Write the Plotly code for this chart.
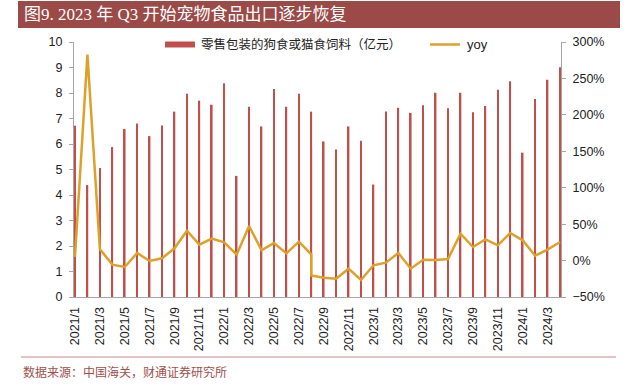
import plotly.graph_objects as go

# Monthly categories (2022/8 appears twice in the source data)
months = ["2021/1", "2021/2", "2021/3", "2021/4", "2021/5", "2021/6", "2021/7", "2021/8",
          "2021/9", "2021/10", "2021/11", "2021/12", "2022/1", "2022/2", "2022/3", "2022/4",
          "2022/5", "2022/6", "2022/7", "2022/8", "2022/8", "2022/9", "2022/10", "2022/11",
          "2022/12", "2023/1", "2023/2", "2023/3", "2023/4", "2023/5", "2023/6", "2023/7",
          "2023/8", "2023/9", "2023/10", "2023/11", "2023/12", "2024/1", "2024/2", "2024/3",
          "2024/4"]

# Export value of retail-packed dog/cat food (100 million CNY)
export_value = [6.72, 4.39, 5.06, 5.88, 6.59, 6.80, 6.31, 6.73, 7.27, 7.97,
                7.70, 7.54, 8.38, 4.75, 7.46, 6.69, 8.16, 7.46, 7.97, 7.27,
                5.86, 6.10, 5.78, 6.69, 6.13, 4.41, 7.27, 7.42, 7.22, 7.52,
                8.01, 7.40, 8.01, 7.25, 7.49, 8.13, 8.46, 5.66, 7.76, 8.52,
                9.01]

# Year-over-year growth (%)
yoy = [5.0, 282.6, 15.9, -5.6, -8.8, 10.4, -0.6, 3.1, 16.8, 41.0,
       21.8, 30.1, 25.0, 8.1, 47.4, 14.1, 24.1, 9.9, 25.9, 8.6,
       -20.3, -23.5, -24.8, -11.1, -26.7, -6.5, -2.9, 10.4, -11.1, 1.2,
       0.8, 2.2, 36.9, 18.6, 29.1, 20.9, 37.8, 27.8, 6.7, 15.0,
       25.5]

x_ticks = ["2021/1", "2021/3", "2021/5", "2021/7", "2021/9", "2021/11",
           "2022/1", "2022/3", "2022/5", "2022/7", "2022/9", "2022/11",
           "2023/1", "2023/3", "2023/5", "2023/7", "2023/9", "2023/11",
           "2024/1", "2024/3"]

bar_name = "零售包装的狗食或猫食饲料（亿元）"
line_name = "yoy"
title_text = "图9. 2023 年 Q3 开始宠物食品出口逐步恢复"
source_text = "数据来源：中国海关，财通证券研究所"

BAR_COLOR = "#C0504D"
LINE_COLOR = "#DFA02A"
AXIS_COLOR = "#A6A6A6"
TEXT_COLOR = "#222222"
SANS = "Liberation Sans, Arial, Noto Sans CJK SC"
SERIF = "Liberation Serif, Times New Roman, Noto Sans CJK SC"

fig = go.Figure()
fig.add_trace(go.Bar(
    x=months, y=export_value, name=bar_name, showlegend=False,
    marker=dict(color=BAR_COLOR, line=dict(width=0)), width=0.13,
))
fig.add_trace(go.Scatter(
    x=months, y=yoy, name=line_name, yaxis="y2", mode="lines", showlegend=False,
    line=dict(color=LINE_COLOR, width=2.5),
))

W, H = 636, 390
L, R, T, B = 74, 75, 42, 93
pw, ph = W - L - R, H - T - B


def px_x(p):  # pixel -> paper x
    return (p - L) / pw


def px_y(p):  # pixel -> paper y
    return (H - B - p) / ph


tickfont = dict(family=SANS, size=12.5, color=TEXT_COLOR)

fig.update_layout(
    width=W, height=H,
    margin=dict(l=L, r=R, t=T, b=B, pad=0),
    paper_bgcolor="white", plot_bgcolor="white",
    font=dict(family=SANS, size=12, color=TEXT_COLOR),
    barmode="overlay",
    xaxis=dict(
        type="category", range=[-0.08, 39.08],
        tickmode="array", tickvals=x_ticks, ticktext=x_ticks,
        tickangle=-90, ticks="", showgrid=False,
        showline=True, linecolor=AXIS_COLOR, linewidth=1,
        tickfont=tickfont, ticklabelstandoff=4,
    ),
    yaxis=dict(
        range=[0, 10], dtick=1, showgrid=False, zeroline=False,
        showline=True, linecolor=AXIS_COLOR, linewidth=1,
        ticks="outside", ticklen=4, tickcolor=AXIS_COLOR,
        tickfont=tickfont, ticklabelstandoff=4,
    ),
    yaxis2=dict(
        range=[-50, 300], dtick=50, overlaying="y", side="right",
        showgrid=False, zeroline=False, ticksuffix="%",
        showline=True, linecolor=AXIS_COLOR, linewidth=1,
        ticks="outside", ticklen=4, tickcolor=AXIS_COLOR,
        tickfont=tickfont, ticklabelstandoff=4,
    ),
    shapes=[
        # title banner
        dict(type="rect", xref="paper", yref="paper",
             x0=px_x(18), x1=px_x(620), y0=px_y(28), y1=px_y(1),
             fillcolor="#9B4A47", line=dict(width=0), layer="below"),
        # footer rule
        dict(type="line", xref="paper", yref="paper",
             x0=px_x(21), x1=px_x(616), y0=px_y(357), y1=px_y(357),
             line=dict(color="#C58A87", width=1)),
        # legend swatches
        dict(type="rect", xref="paper", yref="paper",
             x0=px_x(165), x1=px_x(195), y0=px_y(47.5), y1=px_y(41.5),
             fillcolor=BAR_COLOR, line=dict(width=0)),
        dict(type="line", xref="paper", yref="paper",
             x0=px_x(430), x1=px_x(460), y0=px_y(44.5), y1=px_y(44.5),
             line=dict(color=LINE_COLOR, width=2.5)),
    ],
    annotations=[
        dict(text=title_text, xref="paper", yref="paper",
             x=px_x(22), y=px_y(15), xanchor="left", yanchor="middle",
             showarrow=False, font=dict(family=SERIF, size=17, color="white")),
        dict(text=source_text, xref="paper", yref="paper",
             x=px_x(21), y=px_y(372), xanchor="left", yanchor="middle",
             showarrow=False, font=dict(family=SERIF, size=12, color="#A0504B")),
        dict(text=bar_name, xref="paper", yref="paper",
             x=px_x(199), y=px_y(45), xanchor="left", yanchor="middle",
             showarrow=False, font=dict(family=SANS, size=12.5, color=TEXT_COLOR)),
        dict(text=line_name, xref="paper", yref="paper",
             x=px_x(465), y=px_y(45), xanchor="left", yanchor="middle",
             showarrow=False, font=dict(family=SANS, size=13, color=TEXT_COLOR)),
    ],
)

# Remove the browser's default page margin so the figure sits at the window's corner.
fig.write_html("out.html",
               config={"displayModeBar": False},
               post_script="document.body.style.margin='0';document.body.style.padding='0';")
